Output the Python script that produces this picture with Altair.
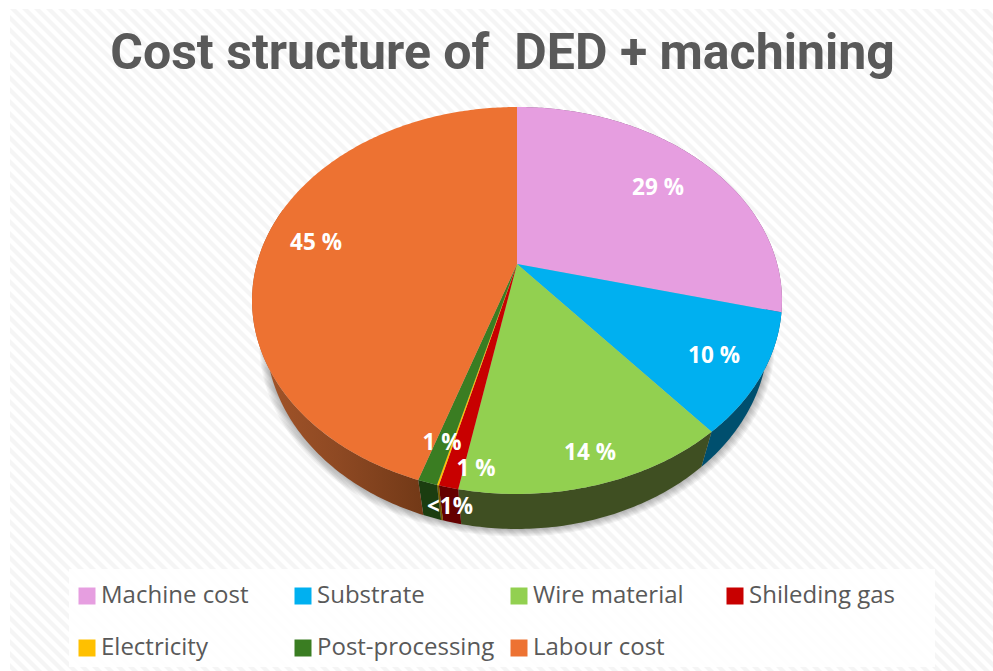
import math
import altair as alt
import pandas as pd

# Cost shares, clockwise from twelve o'clock
slices = ["Machine cost", "Substrate", "Wire material", "Shileding gas",
          "Electricity", "Post-processing", "Labour cost"]
shares = [29, 10, 14, 1, 0.1, 1, 45]
value_labels = ["29 %", "10 %", "14 %", "1 %", "<1%", "1 %", "45 %"]
face_colors = ["#E69EE0", "#00B0F0", "#92D050", "#C80000", "#FFC000", "#3A7D22", "#ED7232"]
wall_colors = ["#7A4F77", "#004F6E", "#3F4F22", "#650000", "#7A5C00", "#1B3D10", "#8A4520"]

# Legend entries flow down each column, so this order reads row by row on the page
legend_order = ["Machine cost", "Electricity", "Substrate", "Post-processing",
                "Wire material", "Labour cost", "Shileding gas"]

# Label anchors in chart pixels
label_x = [658, 714, 590, 476, 450, 442, 316]
label_y = [188, 356, 453, 469, 507, 443, 243]

W, H = 993, 671
FONT = "Open Sans"
TEXT = "#595959"

# Perspective disc: apex of the slices, projected radii, foreshortening and rim depth
CX, CY, A, B, K = 517.0, 264.0, 260.2, 186.6, 0.1886
DEPTH, TAPER = 35.0, 0.948


def rim(f):
    u, v = math.sin(2 * math.pi * f), math.cos(2 * math.pi * f)
    w = 1 + K * v
    return [CX + A * u / w, CY - B * v / w]


def lower(p, grow=1.0, dy=0.0):
    return [CX + (p[0] - CX) * TAPER * grow, p[1] + DEPTH + dy]


def span(f0, f1, step=0.002):
    n = max(2, int((f1 - f0) / step) + 1)
    return [f0 + (f1 - f0) * i / n for i in range(n + 1)]


def feature(ring, **props):
    return {"type": "Feature", "properties": props,
            "geometry": {"type": "Polygon", "coordinates": [ring + [ring[0]]]}}


total = sum(shares)
edges = [0.0]
for s in shares:
    edges.append(edges[-1] + s / total)

top_faces, walls, labour_wall = [], [], []
for i, name in enumerate(slices):
    f0, f1 = edges[i], edges[i + 1]
    fs = span(f0, f1)
    top_faces.append(feature([[CX, CY]] + [rim(f) for f in fs], name=name))
    if name == "Labour cost":
        fs = span(f0, 0.80)
        top = [rim(f) for f in fs]
        labour_wall.append(feature(top + [lower(p) for p in reversed(top)]))
    else:
        top = [rim(f) for f in fs]
        walls.append(feature(top + [lower(p) for p in reversed(top)], wall=wall_colors[i]))

# Soft drop shadow built from stacked translucent discs
shadow = []
for i in range(7):
    ring = [lower(rim(f), grow=1.002 + i * 0.004, dy=1 + i * 1.1) for f in span(0, 1, 0.005)]
    shadow.append(feature(ring))

# Diagonal hatch of the chart area
stripes = []
for start in range(-H, W + 12, 12):
    stripes.append(feature([[start, 0], [start + 6, 0], [start + 6 + H, H], [start + H, H]]))

margins = [feature([[0, 0], [W, 0], [W, 9], [0, 9]]),
           feature([[0, 0], [10, 0], [10, H], [0, H]])]
legend_box = [feature([[69, 569], [935, 569], [935, 667], [69, 667]])]

identity = dict(type="identity", scale=1, translate=[0, 0])


def geo(features, **mark):
    return alt.Chart(alt.Data(values=features)).mark_geoshape(**mark).project(**identity)


stripe_layer = geo(stripes, fill="#EFEFEF", stroke=None).encode(opacity=alt.value(0.6))
margin_layer = geo(margins, fill="white", stroke=None)
box_layer = geo(legend_box, fill="white", stroke=None, opacity=0.85)
shadow_layer = geo(shadow, fill="#000000", stroke=None, opacity=0.045)
wall_layer = geo(walls, strokeWidth=0).encode(
    fill=alt.Fill("properties.wall:N", scale=None, legend=None))
labour_layer = geo(
    labour_wall, strokeWidth=0,
    fill=alt.Gradient(gradient="linear", x1=0, y1=0, x2=1, y2=0,
                      stops=[alt.GradientStop(color="#A5562A", offset=0),
                             alt.GradientStop(color="#8E4923", offset=0.5),
                             alt.GradientStop(color="#723917", offset=1)]))
face_layer = geo(top_faces, strokeWidth=0).encode(
    color=alt.Color(
        "properties.name:N",
        scale=alt.Scale(domain=legend_order,
                        range=[face_colors[slices.index(n)] for n in legend_order]),
        legend=alt.Legend(
            title=None, orient="none", legendX=75, legendY=584,
            columns=4, gridAlign="all", columnPadding=12, rowPadding=28,
            symbolType="square", symbolSize=289, symbolStrokeWidth=0,
            symbolOpacity=1, labelFont=FONT, labelFontSize=24, labelColor=TEXT,
            labelOffset=2, labelLimit=260,
        ),
    )
)

label_table = pd.DataFrame({"label": value_labels, "px": label_x, "py": label_y})
label_layer = alt.Chart(label_table).mark_text(
    font=FONT, fontSize=22.5, fontWeight="bold", color="white", align="center", baseline="middle"
).encode(
    x=alt.X("px:Q", scale=None, axis=None),
    y=alt.Y("py:Q", scale=None, axis=None),
    text="label:N",
)

chart = alt.layer(
    stripe_layer, margin_layer, box_layer, shadow_layer,
    wall_layer, labour_layer, face_layer, label_layer,
).properties(
    width=W, height=H, padding=0, background="white",
    autosize=alt.AutoSizeParams(type="none"),
    title=alt.TitleParams(
        "Cost structure of \u00a0DED + machining", font="Roboto", fontSize=50, fontWeight="bold",
        color=TEXT, anchor="middle", dx=6, dy=119, offset=0, baseline="alphabetic",
    ),
).configure_view(stroke=None)

chart.save("out.html", embed_options={"renderer": "svg", "actions": False})
